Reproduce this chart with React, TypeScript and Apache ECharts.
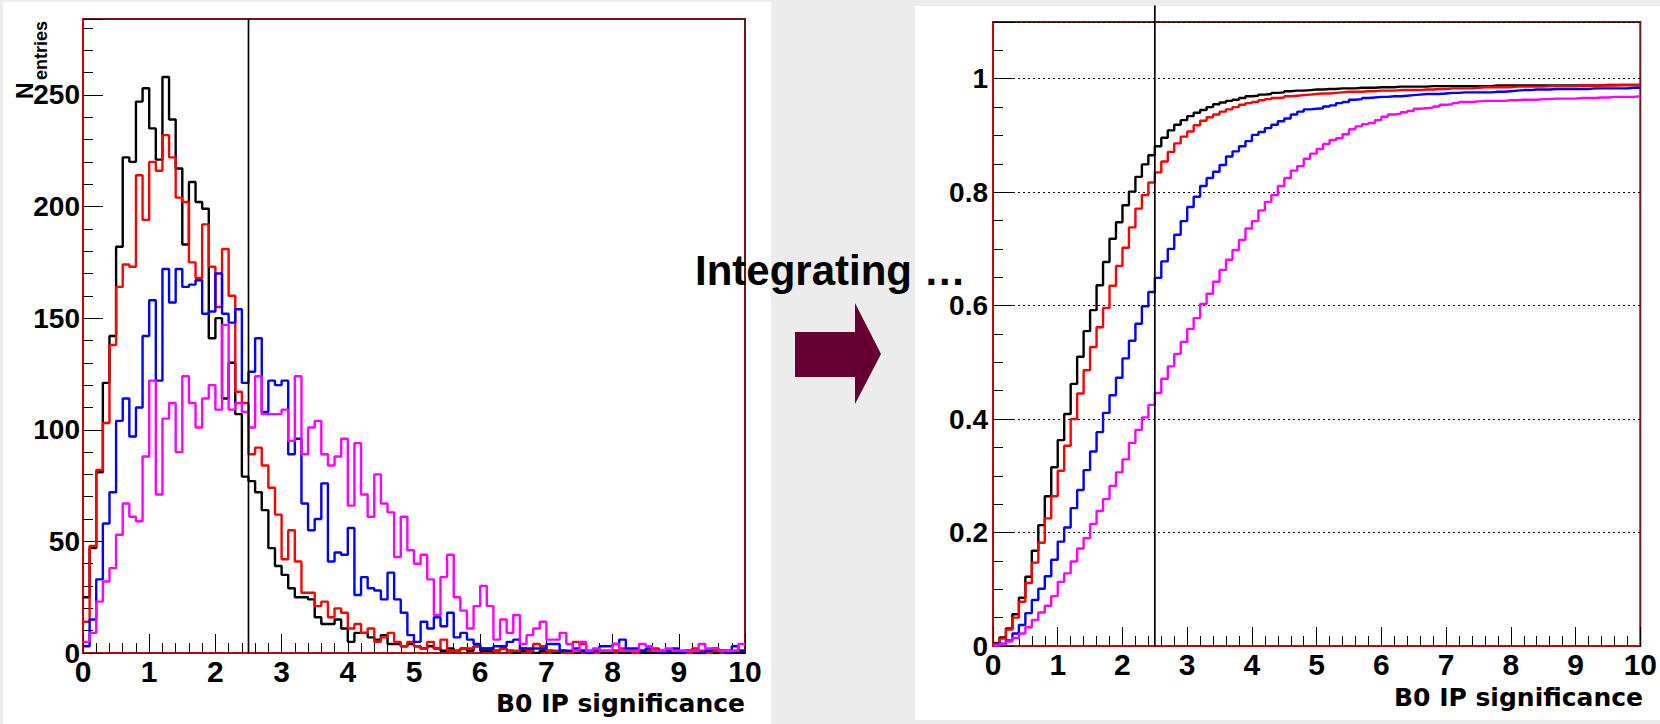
import React, { useEffect, useRef } from "react";
import * as echarts from "echarts";

// ---------- data (100 bins of width 0.1 on 0..10) ----------
const BIN_WIDTH = 0.1;
const CUT_VALUE = 2.5;
const X_MIN = 0;
const X_MAX = 10;
const COUNTS_MAX = 284;
const FRACTION_MAX = 1.1;

// Left panel: entries per bin
const blackCounts = [
  25, 47, 81, 121, 142, 182, 222, 220, 247, 253,
  235, 221, 258, 239, 217, 183, 211, 202, 199, 141,
  150, 114, 130, 107, 79, 77, 72, 64, 47, 39,
  35, 29, 25, 25, 24, 16, 13, 13, 15, 11,
  5, 9, 9, 7, 6, 8, 4, 4, 3, 4,
  3, 2, 3, 2, 1, 2, 1, 2, 1, 3,
  1, 1, 1, 2, 1, 0, 1, 1, 0, 1,
  1, 0, 1, 0, 0, 1, 0, 1, 0, 0,
  1, 0, 0, 1, 0, 0, 0, 1, 0, 0,
  0, 1, 0, 0, 1, 0, 1, 1, 0, 0,
];
const redCounts = [
  14, 48, 82, 103, 138, 164, 174, 173, 214, 194,
  220, 216, 232, 222, 204, 202, 175, 168, 192, 173,
  155, 181, 160, 117, 112, 89, 92, 84, 74, 62,
  42, 55, 41, 27, 27, 21, 23, 16, 20, 18,
  11, 13, 9, 11, 5, 7, 9, 5, 3, 5,
  3, 2, 5, 2, 6, 1, 1, 2, 2, 3,
  2, 2, 1, 2, 1, 1, 2, 1, 4, 3,
  1, 1, 1, 0, 5, 4, 1, 0, 1, 1,
  1, 2, 1, 0, 1, 1, 2, 0, 1, 1,
  1, 0, 2, 1, 0, 1, 1, 0, 1, 1,
];
const blueCounts = [
  3, 15, 33, 58, 72, 104, 114, 97, 110, 142,
  158, 122, 172, 157, 172, 164, 165, 167, 152, 153,
  170, 152, 148, 154, 121, 126, 141, 108, 122, 120,
  122, 89, 96, 67, 55, 60, 76, 41, 45, 44,
  56, 26, 34, 29, 28, 24, 36, 24, 18, 8,
  5, 14, 11, 16, 12, 18, 7, 9, 6, 4,
  2, 2, 3, 3, 5, 6, 2, 2, 2, 2,
  4, 4, 1, 1, 2, 1, 0, 1, 3, 3,
  4, 6, 2, 2, 1, 2, 1, 0, 1, 2,
  0, 1, 1, 0, 1, 2, 1, 0, 3, 1,
];
const magentaCounts = [
  5, 9, 23, 32, 38, 53, 67, 61, 59, 88,
  122, 71, 105, 112, 90, 124, 112, 101, 114, 120,
  109, 147, 109, 112, 108, 101, 124, 107, 107, 107,
  109, 95, 124, 89, 101, 104, 89, 84, 88, 96,
  66, 94, 71, 61, 80, 67, 63, 43, 61, 46,
  40, 44, 33, 17, 34, 44, 25, 19, 11, 21,
  30, 21, 6, 15, 9, 17, 4, 8, 11, 14,
  6, 6, 9, 4, 1, 5, 1, 2, 1, 1,
  4, 1, 1, 1, 4, 3, 1, 1, 2, 1,
  1, 1, 1, 4, 2, 2, 1, 1, 1, 4,
];

// Right panel: integrated fraction per bin
const blackFraction = [
  0.005, 0.015, 0.031, 0.056, 0.085, 0.122, 0.168, 0.213, 0.264, 0.315,
  0.363, 0.409, 0.462, 0.510, 0.555, 0.592, 0.636, 0.677, 0.718, 0.747,
  0.777, 0.801, 0.827, 0.849, 0.865, 0.881, 0.896, 0.909, 0.919, 0.927,
  0.934, 0.940, 0.945, 0.950, 0.955, 0.958, 0.961, 0.963, 0.966, 0.969,
  0.970, 0.972, 0.973, 0.975, 0.976, 0.978, 0.979, 0.979, 0.980, 0.981,
  0.981, 0.982, 0.982, 0.983, 0.983, 0.983, 0.984, 0.984, 0.984, 0.985,
  0.985, 0.985, 0.986, 0.986, 0.986, 0.986, 0.986, 0.987, 0.987, 0.987,
  0.987, 0.987, 0.987, 0.987, 0.987, 0.987, 0.987, 0.988, 0.988, 0.988,
  0.988, 0.988, 0.988, 0.988, 0.988, 0.988, 0.988, 0.988, 0.988, 0.988,
  0.988, 0.988, 0.988, 0.988, 0.989, 0.989, 0.989, 0.989, 0.989, 0.989,
];
const redFraction = [
  0.003, 0.013, 0.029, 0.050, 0.078, 0.111, 0.147, 0.182, 0.225, 0.264,
  0.309, 0.353, 0.400, 0.445, 0.486, 0.527, 0.562, 0.596, 0.635, 0.670,
  0.702, 0.738, 0.771, 0.795, 0.817, 0.835, 0.854, 0.871, 0.886, 0.898,
  0.907, 0.918, 0.926, 0.932, 0.937, 0.942, 0.946, 0.950, 0.954, 0.957,
  0.959, 0.962, 0.964, 0.966, 0.967, 0.969, 0.970, 0.971, 0.972, 0.973,
  0.974, 0.974, 0.975, 0.976, 0.977, 0.977, 0.977, 0.978, 0.978, 0.979,
  0.979, 0.979, 0.980, 0.980, 0.980, 0.980, 0.981, 0.981, 0.982, 0.982,
  0.983, 0.983, 0.983, 0.983, 0.984, 0.985, 0.985, 0.985, 0.985, 0.985,
  0.986, 0.986, 0.986, 0.986, 0.986, 0.987, 0.987, 0.987, 0.987, 0.987,
  0.988, 0.988, 0.988, 0.988, 0.988, 0.988, 0.989, 0.989, 0.989, 0.989,
];
const blueFraction = [
  0.001, 0.004, 0.010, 0.022, 0.037, 0.058, 0.081, 0.101, 0.123, 0.152,
  0.184, 0.209, 0.243, 0.275, 0.310, 0.343, 0.377, 0.411, 0.442, 0.473,
  0.507, 0.538, 0.568, 0.599, 0.624, 0.649, 0.678, 0.700, 0.725, 0.749,
  0.774, 0.792, 0.811, 0.825, 0.836, 0.848, 0.863, 0.872, 0.881, 0.890,
  0.901, 0.906, 0.913, 0.919, 0.925, 0.930, 0.937, 0.942, 0.946, 0.947,
  0.948, 0.951, 0.953, 0.957, 0.959, 0.963, 0.964, 0.966, 0.967, 0.968,
  0.968, 0.969, 0.969, 0.970, 0.971, 0.972, 0.973, 0.973, 0.973, 0.974,
  0.975, 0.975, 0.976, 0.976, 0.976, 0.976, 0.976, 0.977, 0.977, 0.978,
  0.979, 0.980, 0.980, 0.981, 0.981, 0.981, 0.982, 0.982, 0.982, 0.982,
  0.982, 0.982, 0.983, 0.983, 0.983, 0.983, 0.983, 0.983, 0.984, 0.984,
];
const magentaFraction = [
  0.001, 0.003, 0.008, 0.014, 0.022, 0.033, 0.046, 0.059, 0.071, 0.088,
  0.113, 0.128, 0.149, 0.172, 0.190, 0.215, 0.238, 0.259, 0.282, 0.306,
  0.329, 0.358, 0.381, 0.403, 0.425, 0.446, 0.471, 0.493, 0.515, 0.536,
  0.559, 0.578, 0.603, 0.621, 0.642, 0.663, 0.681, 0.698, 0.716, 0.736,
  0.749, 0.768, 0.783, 0.795, 0.811, 0.825, 0.838, 0.846, 0.859, 0.868,
  0.876, 0.885, 0.892, 0.895, 0.902, 0.911, 0.916, 0.920, 0.922, 0.927,
  0.933, 0.937, 0.938, 0.941, 0.943, 0.947, 0.948, 0.949, 0.951, 0.954,
  0.955, 0.957, 0.959, 0.959, 0.960, 0.961, 0.961, 0.961, 0.961, 0.962,
  0.962, 0.963, 0.963, 0.963, 0.964, 0.964, 0.965, 0.965, 0.965, 0.965,
  0.966, 0.966, 0.966, 0.967, 0.967, 0.968, 0.968, 0.968, 0.968, 0.969,
];

const seriesColors = ["#000000", "#ff0000", "#0000ff", "#ff00ff"];
const countSeries = [blackCounts, redCounts, blueCounts, magentaCounts];
const fractionSeries = [blackFraction, redFraction, blueFraction, magentaFraction];

const X_TITLE = "B0 IP significance";
const Y_TITLE_MAIN = "N";
const Y_TITLE_SUB = "entries";
const MIDDLE_TEXT = "Integrating \u2026";

// ---------- helpers ----------
function toSteps(values: number[]): number[][] {
  const pts = values.map((v, i) => [Number((i * BIN_WIDTH).toFixed(2)), v]);
  pts.push([Number((values.length * BIN_WIDTH).toFixed(2)), values[values.length - 1]]);
  return pts;
}

const FONT = "Liberation Sans";
const xLabelFont = { fontFamily: FONT, fontWeight: "bold" as const, fontSize: 30, color: "#000" };
const yLabelFont = { fontFamily: FONT, fontWeight: "bold" as const, fontSize: 28, color: "#000" };
const LINE_W = 2.4;

function xAxisFor(gridIndex: number) {
  return {
    type: "value",
    gridIndex,
    min: X_MIN,
    max: X_MAX,
    interval: 1,
    axisLine: { show: true, lineStyle: { color: "#e00000", width: 1.5 } },
    axisTick: { show: true, inside: true, length: 19, lineStyle: { color: "#000", width: 1 } },
    minorTick: { show: true, splitNumber: 5, length: 10, lineStyle: { color: "#000", width: 1 } },
    splitLine: { show: false },
    axisLabel: { ...xLabelFont, margin: 3 },
  };
}

export default function App() {
  const ref = useRef<HTMLDivElement>(null);

  useEffect(() => {
    if (!ref.current) return;
    const chart = echarts.init(ref.current, undefined, { renderer: "svg" });

    const series: any[] = [];
    countSeries.forEach((vals, i) => {
      series.push({
        type: "line",
        xAxisIndex: 0,
        yAxisIndex: 0,
        step: "end",
        symbol: "none",
        data: toSteps(vals),
        lineStyle: { color: seriesColors[i], width: LINE_W },
        z: 3 + i,
      });
    });
    fractionSeries.forEach((vals, i) => {
      series.push({
        type: "line",
        xAxisIndex: 1,
        yAxisIndex: 1,
        step: "end",
        symbol: "none",
        data: toSteps(vals),
        lineStyle: { color: seriesColors[i], width: LINE_W },
        z: 3 + i,
      });
    });
    series.push({
      type: "line",
      xAxisIndex: 0,
      yAxisIndex: 0,
      symbol: "none",
      data: [
        [CUT_VALUE, 0],
        [CUT_VALUE, COUNTS_MAX],
      ],
      lineStyle: { color: "#000", width: 1.7 },
      z: 10,
    });
    series.push({
      type: "line",
      xAxisIndex: 1,
      yAxisIndex: 1,
      symbol: "none",
      clip: false,
      data: [
        [CUT_VALUE, 0],
        [CUT_VALUE, 1.129],
      ],
      lineStyle: { color: "#000", width: 1.7 },
      z: 10,
    });

    const option: any = {
      animation: false,
      backgroundColor: "#ececec",
      graphic: [
        { type: "rect", shape: { x: 3, y: 2, width: 768, height: 722 }, style: { fill: "#ffffff" }, z: -10, silent: true },
        { type: "rect", shape: { x: 915, y: 6, width: 745, height: 714 }, style: { fill: "#ffffff" }, z: -10, silent: true },
        {
          type: "polygon",
          shape: {
            points: [
              [795, 332], [855, 332], [855, 303], [881, 354], [855, 404], [855, 377], [795, 377],
            ],
          },
          style: { fill: "#660033" },
          z: 100,
        },
        {
          type: "text",
          x: 695,
          y: 270,
          style: {
            text: MIDDLE_TEXT,
            fontFamily: FONT,
            fontWeight: "bold",
            fontSize: 42,
            fill: "#000",
            align: "left",
            verticalAlign: "middle",
          },
          z: 100,
        },
        {
          type: "text",
          x: 24.5,
          y: 99,
          rotation: Math.PI / 2,
          style: {
            text: Y_TITLE_MAIN,
            fontFamily: FONT,
            fontWeight: "bold",
            fontSize: 23,
            fill: "#000",
            align: "left",
            verticalAlign: "middle",
          },
          z: 100,
        },
        {
          type: "text",
          x: 41,
          y: 80,
          rotation: Math.PI / 2,
          style: {
            text: Y_TITLE_SUB,
            fontFamily: FONT,
            fontWeight: "bold",
            fontSize: 18,
            fill: "#000",
            align: "left",
            verticalAlign: "middle",
          },
          z: 100,
        },
        {
          type: "text",
          x: 745,
          y: 703,
          style: {
            text: X_TITLE,
            fontFamily: "DejaVu Sans",
            fontWeight: "bold",
            fontSize: 25,
            fill: "#000",
            align: "right",
            verticalAlign: "middle",
          },
          z: 100,
        },
        {
          type: "text",
          x: 1643,
          y: 697,
          style: {
            text: X_TITLE,
            fontFamily: "DejaVu Sans",
            fontWeight: "bold",
            fontSize: 25,
            fill: "#000",
            align: "right",
            verticalAlign: "middle",
          },
          z: 100,
        },
      ],
      grid: [
        { left: 83, top: 19, right: 915, bottom: 71, show: true, borderColor: "#701818", borderWidth: 2, backgroundColor: "transparent" },
        { left: 993, top: 22, right: 16, bottom: 78, show: true, borderColor: "#701818", borderWidth: 2, backgroundColor: "transparent" },
      ],
      xAxis: [xAxisFor(0), xAxisFor(1)],
      yAxis: [
        {
          type: "value",
          gridIndex: 0,
          min: 0,
          max: COUNTS_MAX,
          interval: 50,
          axisLine: { show: true, lineStyle: { color: "#e00000", width: 1.5 } },
          axisTick: { show: true, inside: true, length: 20, lineStyle: { color: "#000", width: 1 } },
          minorTick: { show: true, splitNumber: 5, length: 10, lineStyle: { color: "#000", width: 1 } },
          splitLine: { show: false },
          axisLabel: { ...yLabelFont, margin: 3, showMaxLabel: false },
        },
        {
          type: "value",
          gridIndex: 1,
          min: 0,
          max: FRACTION_MAX,
          interval: 0.2,
          axisLine: { show: true, lineStyle: { color: "#e00000", width: 1.5 } },
          axisTick: { show: true, inside: true, length: 20, lineStyle: { color: "#000", width: 1 } },
          minorTick: { show: true, splitNumber: 4, length: 10, lineStyle: { color: "#000", width: 1 } },
          splitLine: { show: true, lineStyle: { color: "#000", width: 1, type: [2, 3] } },
          axisLabel: { ...yLabelFont, margin: 5, showMaxLabel: false },
        },
      ],
      series,
    };

    chart.setOption(option);
    return () => chart.dispose();
  }, []);

  return (
    <div
      ref={ref}
      style={{ position: "fixed", left: 0, top: 0, width: 1660, height: 724 }}
    />
  );
}
